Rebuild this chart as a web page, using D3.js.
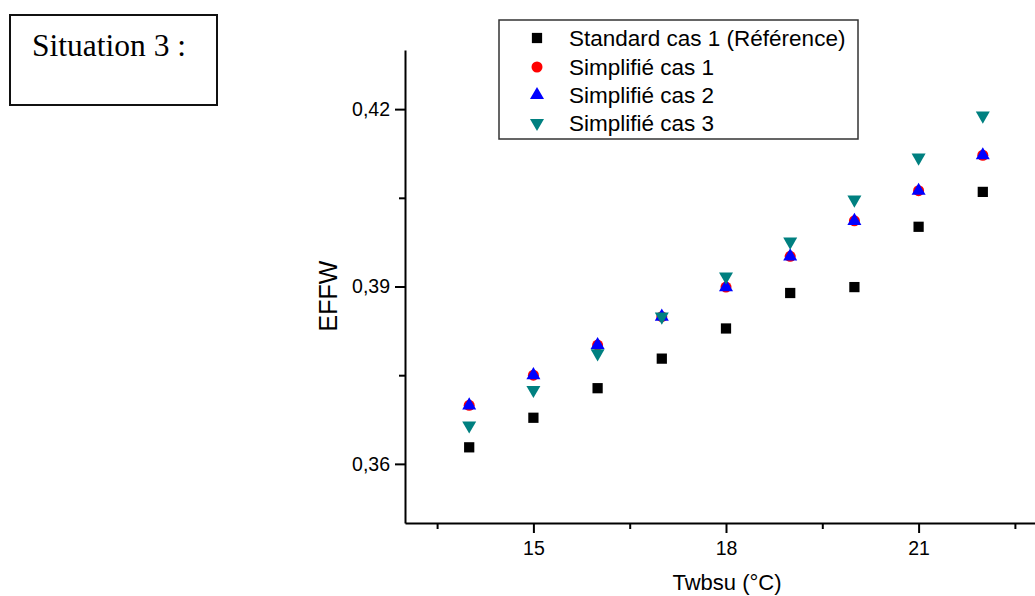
<!DOCTYPE html>
<html>
<head>
<meta charset="utf-8">
<script src="https://cdn.jsdelivr.net/npm/d3@7"></script>
<style>
html,body{margin:0;padding:0;background:#fff;}
svg{display:block;}
</style>
</head>
<body>
<svg id="chart" width="1035" height="596"></svg>
<script>
// ---- data ----
const twbsu = [14, 15, 16, 17, 18, 19, 20, 21, 22];
const standardCas1 = [0.3628, 0.3678, 0.3728, 0.3778, 0.3829, 0.3889, 0.3899, 0.4001, 0.4060];
const simplifieCas1 = [0.3699, 0.3750, 0.3801, 0.3849, 0.3899, 0.3951, 0.4011, 0.4062, 0.4122];
const simplifieCas2 = [0.3699, 0.3750, 0.3801, 0.3849, 0.3899, 0.3951, 0.4011, 0.4062, 0.4122];
const simplifieCas3 = [0.3665, 0.3725, 0.3787, 0.3849, 0.3917, 0.3976, 0.4047, 0.4118, 0.4189];
const xMajorTicks = [15, 18, 21];
const xMinorTicks = [13.5, 16.5, 19.5, 22.5];
const yMajorTicks = [0.36, 0.39, 0.42];
const yMinorTicks = [0.375, 0.405];
const seriesNames = ["Standard cas 1 (Référence)", "Simplifié cas 1", "Simplifié cas 2", "Simplifié cas 3"];

const svg = d3.select("#chart");
const fr = d3.formatLocale({decimal: ",", thousands: " ", grouping: [3], currency: ["", "€"]});
const fmt = fr.format(".2f");

const x = d3.scaleLinear().domain([13, 23]).range([405, 1047]);
const y = d3.scaleLinear().domain([0.35, 0.43]).range([523, 50]);

const font = "'Liberation Sans', Arial, sans-serif";

// Situation box
svg.append("rect").attr("x", 10).attr("y", 15).attr("width", 207).attr("height", 90)
  .attr("fill", "#fff").attr("stroke", "#111").attr("stroke-width", 2);
svg.append("text").attr("x", 32).attr("y", 55.5)
  .attr("font-family", "'Liberation Serif', 'Times New Roman', serif")
  .attr("font-size", 31.5).attr("fill", "#000").text("Situation 3 :");

// axes
const gx = svg.append("g").attr("transform", "translate(0,523)");
gx.call(d3.axisBottom(x).tickValues(xMajorTicks).tickSize(10).tickPadding(8).tickFormat(d3.format("d")).tickSizeOuter(0));
const gxm = svg.append("g").attr("transform", "translate(0,523)");
gxm.call(d3.axisBottom(x).tickValues(xMinorTicks).tickSize(6).tickFormat("").tickSizeOuter(0));
gxm.select(".domain").remove();

const gy = svg.append("g").attr("transform", "translate(405,0)");
gy.call(d3.axisLeft(y).tickValues(yMajorTicks).tickSize(10).tickPadding(5).tickFormat(fmt).tickSizeOuter(0));
const gym = svg.append("g").attr("transform", "translate(405,0)");
gym.call(d3.axisLeft(y).tickValues(yMinorTicks).tickSize(6).tickFormat("").tickSizeOuter(0));
gym.select(".domain").remove();

svg.selectAll(".domain").attr("stroke", "#000").attr("stroke-width", 2);
svg.selectAll(".tick line").attr("stroke", "#000").attr("stroke-width", 2);
svg.selectAll(".tick text").attr("font-family", font).attr("font-size", 19.5).attr("fill", "#000");

// axis titles
svg.append("text").attr("x", 727).attr("y", 590).attr("text-anchor", "middle")
  .attr("font-family", font).attr("font-size", 22).attr("fill", "#000").text("Twbsu (°C)");
svg.append("text").attr("transform", "translate(337,296) rotate(-90)").attr("text-anchor", "middle")
  .attr("font-family", font).attr("font-size", 25).attr("fill", "#000").text("EFFW");

// symbols
const sq = d3.symbol().type(d3.symbolSquare).size(105);
const circ = d3.symbol().type(d3.symbolCircle).size(95);
const triUp = d3.symbol().type(d3.symbolTriangle).size(85);
const styles = [
  {vals: standardCas1, path: sq(), color: "#000000", rot: 0},
  {vals: simplifieCas1, path: circ(), color: "#FF0000", rot: 0},
  {vals: simplifieCas2, path: triUp(), color: "#0000FF", rot: 0},
  {vals: simplifieCas3, path: triUp(), color: "#008080", rot: 180}
];
styles.forEach(s => {
  svg.append("g").selectAll("path").data(twbsu).join("path")
    .attr("d", s.path)
    .attr("transform", (d, i) => `translate(${x(d)},${y(s.vals[i])}) rotate(${s.rot})`)
    .attr("fill", s.color);
});

// legend
const lg = svg.append("g");
lg.append("rect").attr("x", 499).attr("y", 20).attr("width", 359).attr("height", 119)
  .attr("fill", "#fff").attr("stroke", "#333").attr("stroke-width", 1.5);
const rowY = [38, 67, 95, 123];
styles.forEach((s, i) => {
  lg.append("path").attr("d", s.path)
    .attr("transform", `translate(537,${rowY[i]}) rotate(${s.rot})`).attr("fill", s.color);
  lg.append("text").attr("x", 569).attr("y", rowY[i] + 8)
    .attr("font-family", font).attr("font-size", 22.5).attr("fill", "#000").text(seriesNames[i]);
});
</script>
</body>
</html>
